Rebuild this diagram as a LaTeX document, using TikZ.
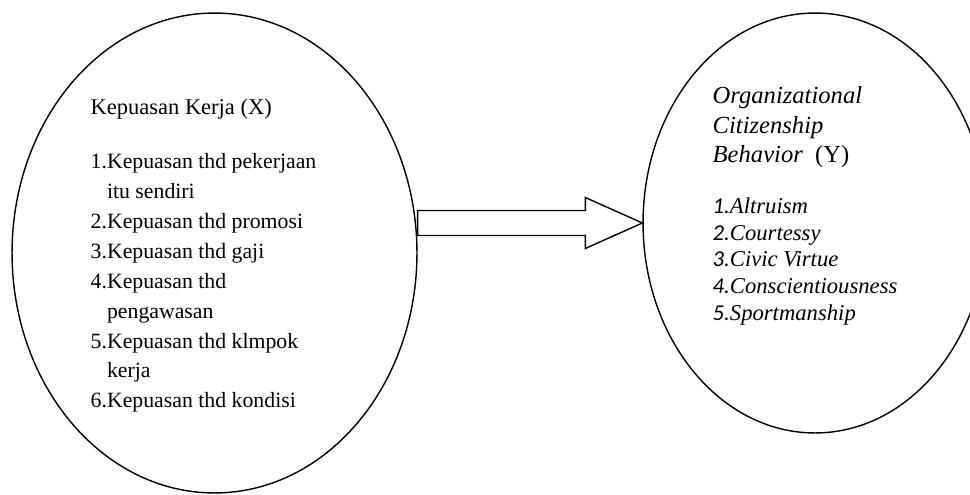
\documentclass[tikz,border=0pt]{standalone}
\usepackage{fontspec}
\setmainfont{Liberation Serif}
\newfontfamily\numfont{Carlito}
\usetikzlibrary{shapes.geometric,calc}
\newcommand{\inum}[1]{{\numfont\itshape #1.}}
\begin{document}
\begin{tikzpicture}[x=0.02cm,y=-0.02cm,line width=0.8pt,
    varoval/.style={draw,ellipse,inner sep=0pt},
    txt/.style={inner sep=0pt,anchor=north west,align=left}]
  \useasboundingbox (0,0) rectangle (970,494);
  % variables
  \node[varoval,minimum width=8.1cm,minimum height=9.6cm] (kepuasan) at (214.5,253) {};
  \node[varoval,minimum width=6.88cm,minimum height=8.4cm] (ocb) at (815,223) {};
  % texts
  \node[txt,font=\fontsize{12.8}{17}\selectfont] (khead) at (90,98.5) {Kepuasan Kerja (X)};
  \node[txt,font=\fontsize{12.4}{17}\selectfont] (klist) at (90,153)
    {1.Kepuasan thd pekerjaan\\
     \phantom{1.}itu sendiri\\
     2.Kepuasan thd promosi\\
     3.Kepuasan thd gaji\\
     4.Kepuasan thd\\
     \phantom{4.}pengawasan\\
     5.Kepuasan thd klmpok\\
     \phantom{5.}kerja\\
     6.Kepuasan thd kondisi};
  \node[txt,font=\fontsize{14}{16.7}\selectfont] (ohead) at (712,86)
    {\textit{Organizational}\\
     \textit{Citizenship}\\
     \textit{Behavior}\ \ (Y)};
  \node[txt,font=\fontsize{12.9}{15.1}\selectfont] (olist) at (712,197.5)
    {\inum{1}\textit{Altruism}\\
     \inum{2}\textit{Courtessy}\\
     \inum{3}\textit{Civic Virtue}\\
     \inum{4}\textit{Conscientiousness}\\
     \inum{5}\textit{Sportmanship}};
  % block arrow
  \coordinate (a0) at (kepuasan.east |- ocb.west);
  \draw ($(a0)+(0,-12.5)$) -- ($(ocb.west)+(-57,-12.5)$) -- ($(ocb.west)+(-57,-25.5)$)
    -- (ocb.west) -- ($(ocb.west)+(-57,25.5)$) -- ($(ocb.west)+(-57,12.5)$)
    -- ($(a0)+(0,12.5)$) -- cycle;
\end{tikzpicture}
\end{document}
